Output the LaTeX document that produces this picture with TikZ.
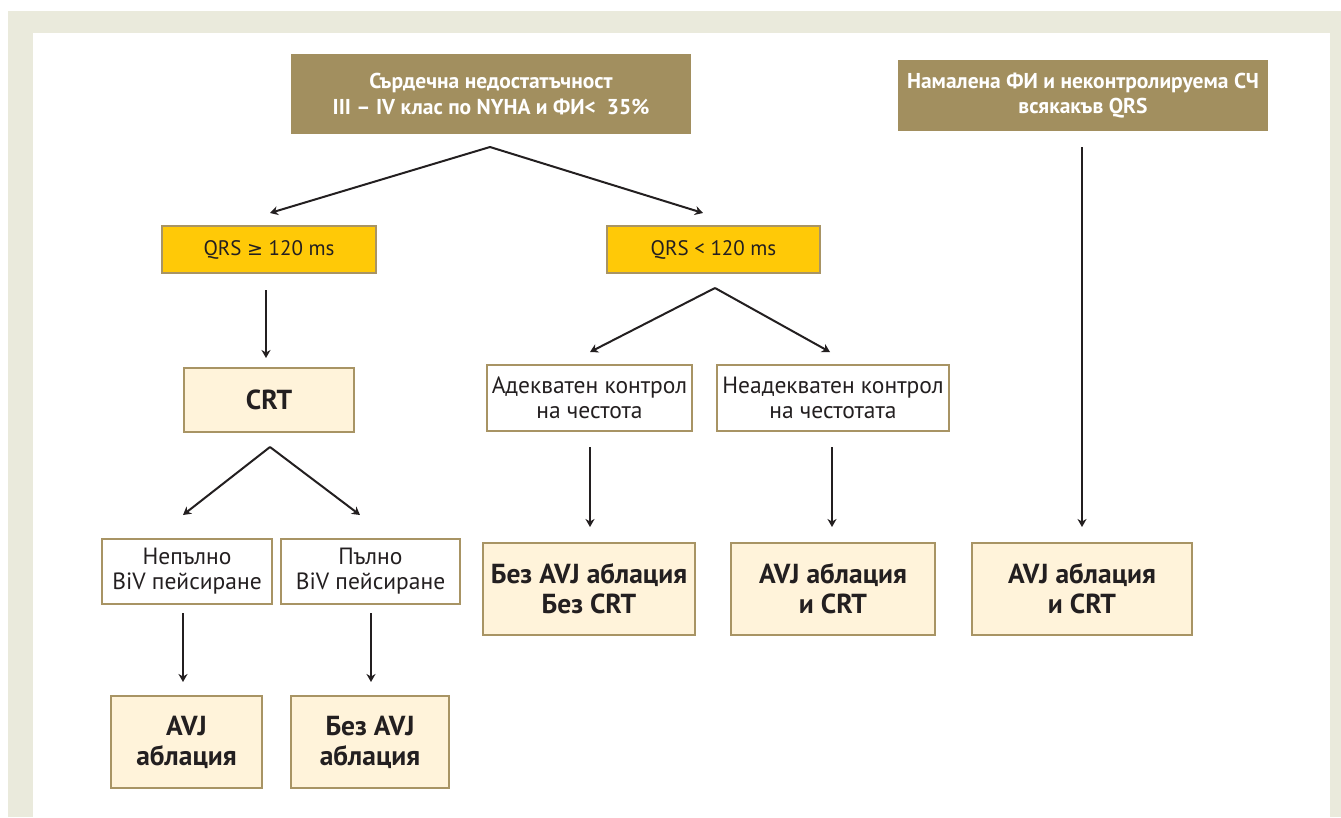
\documentclass[tikz,border=0pt]{standalone}
\usepackage{fontspec}
\setmainfont{PT Sans}
\newfontfamily\symfont{DejaVu Sans}
\usetikzlibrary{arrows.meta}

\definecolor{frameBeige}{HTML}{EAEADC}
\definecolor{olive}{HTML}{A28F5F}
\definecolor{oliveEdge}{HTML}{A89464}
\definecolor{qrsYellow}{HTML}{FFC907}
\definecolor{cream}{HTML}{FFF3DA}
\definecolor{ink}{HTML}{231F20}

\tikzset{
  x=1pt, y=-1pt,
  box/.style={anchor=north west, inner sep=0pt, align=center, line width=2pt, text=ink},
  headbox/.style={box, fill=olive, draw=none, text=white, font=\bfseries\fontsize{21.5}{25.5}\selectfont},
  qrsbox/.style={box, fill=qrsYellow, draw=oliveEdge, font=\fontsize{21}{24}\selectfont},
  plainbox/.style={box, fill=white, draw=oliveEdge, font=\fontsize{23.5}{25}\selectfont},
  resultbox/.style={box, fill=cream, draw=oliveEdge, font=\bfseries\fontsize{27.5}{30}\selectfont},
  arr/.style={draw=ink, line width=2pt, -{Stealth[length=8pt,width=9pt,inset=2.5pt]}},
}

\begin{document}
\begin{tikzpicture}
\useasboundingbox (0,0) rectangle (1341,817);
% page frame
\fill[white] (0,0) rectangle (1341,817);
\fill[frameBeige] (8,11) rectangle (1341,817);
\fill[white] (33,33) rectangle (1330,817);

% header boxes
\node[headbox, minimum width=400, minimum height=80] (hf) at (290,53)
  {Сърдечна недостатъчност\\III – IV клас по NYHA и ФИ<\ \ 35\%};
\node[headbox, minimum width=370, minimum height=71] (lowef) at (897,59)
  {Намалена ФИ и неконтролируема СЧ\\всякакъв QRS};

% QRS width
\node[qrsbox, minimum width=214, minimum height=47] (qrswide) at (161,225)
  {QRS {\symfont\fontsize{19}{22}\selectfont ≥} 120 ms};
\node[qrsbox, minimum width=213, minimum height=47] (qrsnarrow) at (606,225)
  {QRS < 120 ms};

% second level
\node[resultbox, minimum width=170, minimum height=64] (crt) at (183,367) {CRT};
\node[plainbox, minimum width=205, minimum height=66] (ratectl) at (486,364)
  {Адекватен контрол\\на честота};
\node[plainbox, minimum width=232, minimum height=66] (norate) at (716,364)
  {Неадекватен контрол\\на честотата};

% BiV pacing
\node[plainbox, minimum width=170, minimum height=65] (partbiv) at (101,538)
  {Непълно\\BiV пейсиране};
\node[plainbox, minimum width=179, minimum height=65] (fullbiv) at (280,538)
  {Пълно\\BiV пейсиране};

% outcomes
\node[resultbox, minimum width=212, minimum height=92] (noabl) at (482,542)
  {Без AVJ аблация\\Без CRT};
\node[resultbox, minimum width=204, minimum height=92] (ablcrt) at (730,542)
  {AVJ аблация\\и CRT};
\node[resultbox, minimum width=220, minimum height=92] (ablcrtb) at (971,542)
  {AVJ аблация\\и CRT};
\node[resultbox, minimum width=151, minimum height=92] (abl) at (110,695)
  {AVJ\\аблация};
\node[resultbox, minimum width=158, minimum height=92] (noablb) at (290,695)
  {Без AVJ\\аблация};

% arrow end points
\coordinate (hfsplit) at (490,147);
\coordinate (toqrswide) at (270,213);
\coordinate (toqrsnarrow) at (703,213);
\coordinate (qrswideout) at (266,290);
\coordinate (tocrt) at (266,358);
\coordinate (qrssplit) at (715,288);
\coordinate (toratectl) at (590,352);
\coordinate (tonorate) at (830,352);
\coordinate (crtsplit) at (270,447);
\coordinate (topartbiv) at (183,515);
\coordinate (tofullbiv) at (360,515);
\coordinate (partbivout) at (183,613);
\coordinate (toabl) at (183,682);
\coordinate (fullbivout) at (371,613);
\coordinate (tonoablb) at (371,682);
\coordinate (ratectlout) at (590,447);
\coordinate (tonoabl) at (590,527);
\coordinate (norateout) at (832,447);
\coordinate (toablcrt) at (832,527);
\coordinate (lowefout) at (1082,147);
\coordinate (toablcrtb) at (1082,527);

% connectors
\draw[arr] (hfsplit) -- (toqrswide);
\draw[arr] (hfsplit) -- (toqrsnarrow);
\draw[arr] (qrswideout) -- (tocrt);
\draw[arr] (qrssplit) -- (toratectl);
\draw[arr] (qrssplit) -- (tonorate);
\draw[arr] (crtsplit) -- (topartbiv);
\draw[arr] (crtsplit) -- (tofullbiv);
\draw[arr] (partbivout) -- (toabl);
\draw[arr] (fullbivout) -- (tonoablb);
\draw[arr] (ratectlout) -- (tonoabl);
\draw[arr] (norateout) -- (toablcrt);
\draw[arr] (lowefout) -- (toablcrtb);
\end{tikzpicture}
\end{document}
